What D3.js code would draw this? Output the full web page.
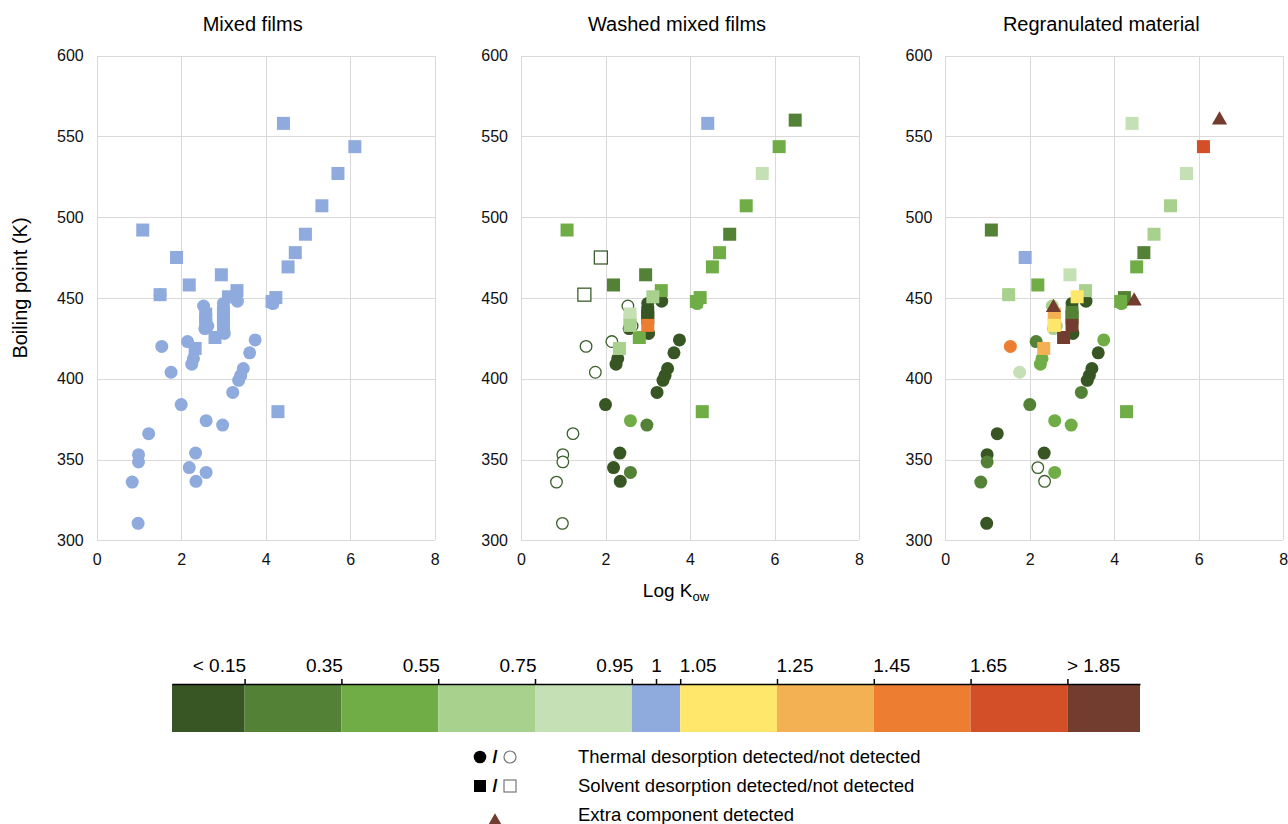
<!DOCTYPE html>
<head>
    <meta charset="utf-8">
    <title>Boiling point vs Log Kow</title>
    <style>
        body {
            margin: 0;
            background: #fff;
            font-family: 'Liberation Sans', Arial, sans-serif;
        }

        text {
            font-family: 'Liberation Sans', Arial, sans-serif;
            fill: #000;
        }

        .axis path {
            display: none;
        }

        .axis line {
            stroke: #d9d9d9;
            shape-rendering: crispEdges;
        }

        .axis text {
            font-size: 16px;
            fill: #111;
        }

        .legend-axis path,
        .legend-axis line {
            stroke: #000;
            stroke-width: 1.5px;
        }

        .legend-axis text {
            font-size: 19px;
        }
    </style>
    <script src="https://d3js.org/d3.v7.min.js"></script>
</head>

<body>
    <script type="text/javascript">
        "use strict";

        // compounds: 32 circles (thermal desorption) then 26 squares (solvent desorption)
        var logKow = [1.54, 1.76, 2.00, 1.23, 0.99, 0.99, 0.84, 0.98, 2.34, 2.19, 2.59, 2.35, 2.59, 2.98, 3.22, 3.36,
            3.41, 3.47, 3.62, 3.75, 2.15, 2.29, 2.25, 2.53, 2.56, 2.63, 3.00, 3.00, 3.02, 3.33, 1.50, 4.17,
            4.42, 6.11, 5.71, 5.33, 4.94, 4.70, 4.53, 1.09, 1.89, 2.19, 2.95, 1.50, 3.32, 4.24, 4.15, 4.29,
            2.33, 2.80, 6.49, 2.58, 2.58, 2.58, 3.00, 3.00, 3.00, 3.12];
        var boilingPoint = [420, 404, 384, 366, 353, 348.5, 336, 310.5, 354, 345, 342, 336.5, 374, 371.3, 391.5, 399,
            402, 406.3, 416, 424, 423, 412.5, 409, 445, 431, 432.6, 446.6, 441.5, 428, 448, 452, 446.5,
            558, 543.6, 527, 507, 489.4, 478, 469.2, 492, 475, 458, 464.3, 452, 454.5, 450.2, 447.8, 379.6,
            418.7, 425.5, 560, 440, 436.5, 433, 437.5, 441, 433, 450.7];
        var markerShape = [
            "c", "c", "c", "c", "c", "c", "c", "c", "c", "c", "c", "c", "c", "c", "c", "c",
            "c", "c", "c", "c", "c", "c", "c", "c", "c", "c", "c", "c", "c", "c", "c", "c",
            "s", "s", "s", "s", "s", "s", "s", "s", "s", "s", "s", "s", "s", "s", "s", "s",
            "s", "s", "s", "s", "s", "s", "s", "s", "s", "s"];

        // ratio class per compound (index into ratioColors), "o" = not detected, null = absent
        var mixedFilms = [5, 5, 5, 5, 5, 5, 5, 5, 5, 5, 5, 5, 5, 5, 5, 5,
            5, 5, 5, 5, 5, 5, 5, 5, 5, 5, 5, 5, 5, 5, 5, 5,
            5, 5, 5, 5, 5, 5, 5, 5, 5, 5, 5, 5, 5, 5, 5, 5,
            5, 5, null, 5, 5, 5, 5, 5, 5, 5];
        var washedFilms = ["o", "o", 0, "o", "o", "o", "o", "o", 0, 0, 1, 0, 2, 1, 0, 0,
            0, 0, 0, 0, "o", 0, 0, "o", 0, "o", 0, 0, 0, 0, "o", 2,
            5, 2, 4, 2, 1, 2, 2, 2, "o", 1, 1, "o", 2, 2, 2, 2,
            3, 2, 1, 4, 4, 3, 0, 0, 8, 3];
        var regranulated = [8, 4, 1, 0, 0, 1, 1, 0, 0, "o", 2, "o", 2, 2, 1, 0,
            0, 0, 0, 2, 1, 2, 2, 3, 3, 3, 0, 0, 0, 0, 3, 2,
            4, 9, 4, 3, 3, 1, 2, 1, 5, 2, 4, 3, 3, 1, 2, 2,
            7, 10, null, 7, 7, 6, 1, 1, 10, 6];

        // extra components detected in the regranulated material
        var extraLogKow = [6.49, 4.47, 2.56];
        var extraBoilingPoint = [560, 448, 444];

        var panelTitles = ["Mixed films", "Washed mixed films", "Regranulated material"];
        var panelCodes = [mixedFilms, washedFilms, regranulated];
        var panelHasExtras = [false, false, true];

        var xTicks = [0, 2, 4, 6, 8];
        var yTicks = [300, 350, 400, 450, 500, 550, 600];

        var ratioBreaks = [0, 0.15, 0.35, 0.55, 0.75, 0.95, 1.05, 1.25, 1.45, 1.65, 1.85, 2];
        var ratioColors = ["#375623", "#538135", "#70ad47", "#a9d18e", "#c5e0b4", "#8faadc",
            "#ffe76b", "#f4b153", "#ed7d31", "#d24f28", "#723d2e"];
        var ratioTicks = [0.15, 0.35, 0.55, 0.75, 0.95, 1, 1.05, 1.25, 1.45, 1.65, 1.85];
        var ratioTickLabels = ["< 0.15", "0.35", "0.55", "0.75", "0.95", "1", "1.05", "1.25", "1.45", "1.65", "> 1.85"];

        var symbolLegend = [
            { label: "Thermal desorption detected/not detected", shape: "c" },
            { label: "Solvent desorption detected/not detected", shape: "s" },
            { label: "Extra component detected", shape: "t" }
        ];

        const width = 1288, height = 824;
        const margin = { top: 55.5, left: 96.7 },
            plotW = 338, plotH = 484.8, panelStep = 424.3;
        const openStroke = "#3b5f2a";

        var svg = d3.select("body").append("svg")
            .attr("width", width)
            .attr("height", height);

        var x = d3.scaleLinear().domain([0, 8]).range([0, plotW]);
        var y = d3.scaleLinear().domain([300, 600]).range([plotH, 0]);
        var tri = d3.symbol().type(d3.symbolTriangle).size(100);

        panelTitles.forEach(function (title, p) {
            var g = svg.append("g")
                .attr("transform", "translate(" + (margin.left + p * panelStep) + "," + margin.top + ")");

            g.append("g")
                .attr("class", "axis")
                .attr("transform", "translate(0," + plotH + ")")
                .call(d3.axisBottom(x).tickValues(xTicks).tickSize(-plotH).tickPadding(13));

            g.append("g")
                .attr("class", "axis")
                .call(d3.axisLeft(y).tickValues(yTicks).tickSize(-plotW).tickPadding(13));

            g.append("text")
                .attr("x", plotW / 2 - 13)
                .attr("y", -25)
                .attr("text-anchor", "middle")
                .style("font-size", "20px")
                .text(title);

            var codes = panelCodes[p];
            var pts = logKow.map(function (v, i) {
                return { x: v, y: boilingPoint[i], shape: markerShape[i], code: codes[i] };
            }).filter(function (d) { return d.code !== null; });

            function fillOf(d) { return d.code === "o" ? "#fff" : ratioColors[d.code]; }
            function strokeOf(d) { return d.code === "o" ? openStroke : "none"; }

            g.selectAll(".pt-c")
                .data(pts.filter(function (d) { return d.shape === "c"; }))
                .enter().append("circle")
                .attr("class", "pt-c")
                .attr("cx", function (d) { return x(d.x); })
                .attr("cy", function (d) { return y(d.y); })
                .attr("r", function (d) { return d.code === "o" ? 5.8 : 6.5; })
                .style("fill", fillOf)
                .style("stroke", strokeOf)
                .style("stroke-width", 1.3);

            g.selectAll(".pt-s")
                .data(pts.filter(function (d) { return d.shape === "s"; }))
                .enter().append("rect")
                .attr("class", "pt-s")
                .attr("x", function (d) { return x(d.x) - 6.5; })
                .attr("y", function (d) { return y(d.y) - 6.5; })
                .attr("width", 13)
                .attr("height", 13)
                .style("fill", fillOf)
                .style("stroke", strokeOf)
                .style("stroke-width", 1.3);

            if (panelHasExtras[p]) {
                g.selectAll(".pt-t")
                    .data(extraLogKow.map(function (v, i) { return { x: v, y: extraBoilingPoint[i] }; }))
                    .enter().append("path")
                    .attr("class", "pt-t")
                    .attr("d", tri)
                    .attr("transform", function (d) { return "translate(" + x(d.x) + "," + y(d.y) + ")"; })
                    .style("fill", ratioColors[10]);
            }
        });

        // axis titles
        var xt = svg.append("text")
            .attr("x", 676)
            .attr("y", 597)
            .attr("text-anchor", "middle")
            .style("font-size", "19px");
        xt.append("tspan").text("Log K");
        xt.append("tspan").attr("dy", 4).style("font-size", "13px").text("ow");

        svg.append("text")
            .attr("transform", "translate(27,288) rotate(-90)")
            .attr("text-anchor", "middle")
            .style("font-size", "20px")
            .text("Boiling point (K)");

        // ratio colour bar
        var r = d3.scaleLinear().domain([0, 2]).range([172, 1140]);
        var barTop = 684, barH = 48;

        svg.append("g").selectAll("rect")
            .data(ratioColors)
            .enter().append("rect")
            .attr("x", function (d, i) { return r(ratioBreaks[i]); })
            .attr("y", barTop)
            .attr("width", function (d, i) { return r(ratioBreaks[i + 1]) - r(ratioBreaks[i]); })
            .attr("height", barH)
            .style("fill", function (d) { return d; });

        var lax = svg.append("g")
            .attr("class", "legend-axis")
            .attr("transform", "translate(0," + barTop + ")")
            .call(d3.axisTop(r).tickValues(ratioTicks).tickSizeInner(5).tickSizeOuter(0).tickPadding(7)
                .tickFormat(function (d, i) { return ratioTickLabels[i]; }));
        lax.selectAll(".tick text")
            .attr("text-anchor", function (d) { return d < 1 ? "end" : (d > 1 ? "start" : "middle"); })
            .attr("dx", function (d) { return d < 1 ? 1 : (d > 1 ? -1 : 0); });

        // marker legend
        var leg = svg.append("g");
        symbolLegend.forEach(function (d, i) {
            var cy = 757 + i * 29;
            if (d.shape === "c") {
                leg.append("circle").attr("cx", 480).attr("cy", cy).attr("r", 6.3).style("fill", "#000");
                leg.append("circle").attr("cx", 510).attr("cy", cy).attr("r", 6)
                    .style("fill", "none").style("stroke", "#777").style("stroke-width", 1.2);
            } else if (d.shape === "s") {
                leg.append("rect").attr("x", 474).attr("y", cy - 6).attr("width", 12).attr("height", 12).style("fill", "#000");
                leg.append("rect").attr("x", 504).attr("y", cy - 6).attr("width", 12).attr("height", 12)
                    .style("fill", "none").style("stroke", "#777").style("stroke-width", 1.2);
            } else {
                leg.append("path").attr("d", tri).attr("transform", "translate(495," + (cy + 7) + ")")
                    .style("fill", ratioColors[10]);
            }
            if (d.shape !== "t") {
                leg.append("text").attr("x", 495).attr("y", cy + 6).attr("text-anchor", "middle")
                    .style("font-size", "18px").style("font-weight", "bold").text("/");
            }
            leg.append("text")
                .attr("x", 578)
                .attr("y", cy + 6)
                .style("font-size", "18.5px")
                .text(d.label);
        });
    </script>
</body>
